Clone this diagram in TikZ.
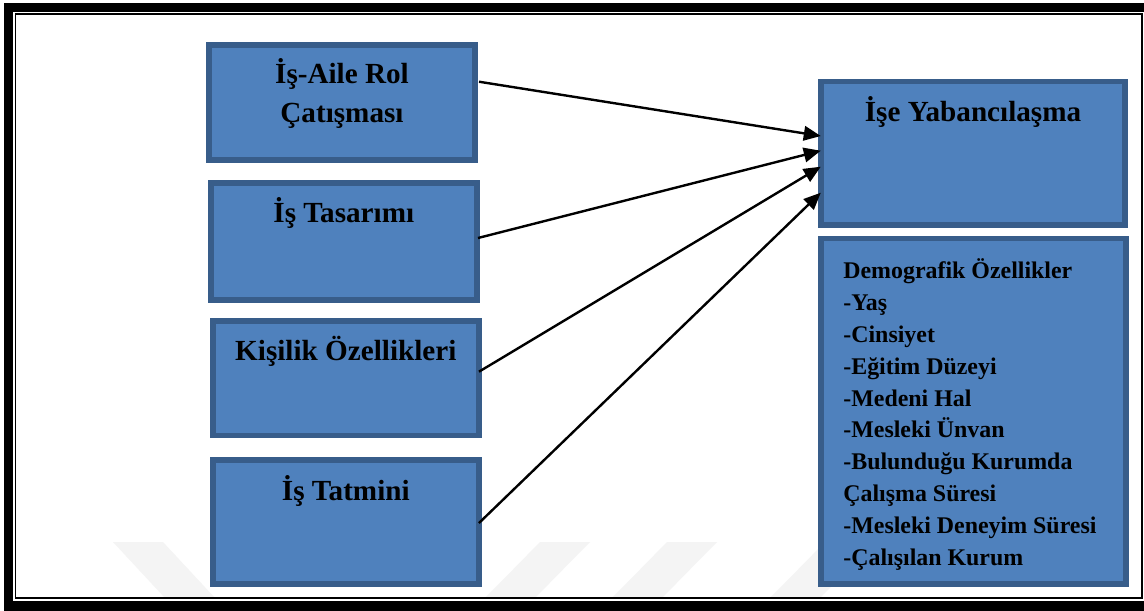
\documentclass[tikz,border=0pt]{standalone}
\usepackage{fontspec}
\setmainfont{Liberation Serif}
\usetikzlibrary{calc,arrows.meta}
\definecolor{boxfill}{HTML}{4F81BD}
\definecolor{boxline}{HTML}{385D8A}
\definecolor{wmark}{gray}{0.955}

\begin{document}
\begin{tikzpicture}[x=0.02cm,y=-0.02cm,
  box/.style={draw=boxline, fill=boxfill, line width=0.11cm, inner sep=0pt, outer sep=0pt},
  title/.style={font=\fontsize{16.6}{20}\selectfont\bfseries, inner sep=0pt, anchor=base},
  item/.style={font=\fontsize{13.6}{16}\selectfont\bfseries, inner sep=0pt, anchor=base west},
  link/.style={line width=0.048cm, -{Triangle[length=0.34cm,width=0.29cm]}}]
\useasboundingbox (0,0) rectangle (1144,610);

% page frame: thick outer band and thin inner rule
\fill[black] (4,3) rectangle (1150,616);
\fill[white] (13,12) rectangle (1144,601);
% faint background marks
\fill[wmark] (113,542) -- (163,542) -- (215,598) -- (165,598) -- cycle;
\fill[wmark] (485,598) -- (535,598) -- (590,542) -- (540,542) -- cycle;
\fill[wmark] (612,598) -- (662,598) -- (717,542) -- (667,542) -- cycle;
\fill[wmark] (770,598) -- (820,598) -- (875,542) -- (825,542) -- cycle;
\draw[line width=0.04cm] (15.5,14.2) rectangle (1142,597.5);

% factor boxes
\node[box, minimum width=5.33cm, minimum height=2.31cm] (b1) at (342,102.5) {};
\node[box, minimum width=5.32cm, minimum height=2.35cm] (b2) at (343.8,241.5) {};
\node[box, minimum width=5.32cm, minimum height=2.29cm] (b3) at (345.8,378) {};
\node[box, minimum width=5.32cm, minimum height=2.48cm] (b4) at (345.8,521.8) {};
\node[box, minimum width=6.09cm, minimum height=2.864cm] (r1) at (973,153.3) {};
\node[box, minimum width=6.11cm, minimum height=6.904cm] (r2) at (973.5,411.3) {};

% box titles
\node[title] (t1a) at ($(b1.north)+(0,38.25)$) {İş-Aile Rol};
\node[title] (t1b) at ($(b1.north)+(0,77.95)$) {Çatışması};
\node[title] (t2) at ($(b2.north)+(0,39.55)$) {İş Tasarımı};
\node[title] (t3) at ($(b3.north)+(0,39.25)$) {Kişilik Özellikleri};
\node[title] (t4) at ($(b4.north)+(0,40.95)$) {İş Tatmini};
\node[title] (tr) at ($(r1.north)+(0,39.95)$) {İşe Yabancılaşma};

% demographic list
\foreach \t [count=\i from 0] in {Demografik Özellikler, -Yaş, -Cinsiyet,
    -Eğitim Düzeyi, -Medeni Hal, -Mesleki Ünvan, -Bulunduğu Kurumda,
    Çalışma Süresi, -Mesleki Deneyim Süresi, -Çalışılan Kurum}
  \node[item] (d\i) at ($(r2.north west)+(22.25,{39.55+31.93*\i})$) {\t};

% arrows into the outcome box
\draw[link] ($(b1.east)+(3.75,-20.8)$) -- ($(r1.west)+(0,-17.3)$);
\draw[link] ($(b2.east)+(1.2,-3.5)$) -- ($(r1.west)+(0,-2.6)$);
\draw[link] ($(b3.east)+(0.2,-6.3)$) -- ($(r1.west)+(0,13.4)$);
\draw[link] ($(b4.east)+(0.2,1.2)$) -- ($(r1.west)+(0,39.4)$);
\end{tikzpicture}
\end{document}
